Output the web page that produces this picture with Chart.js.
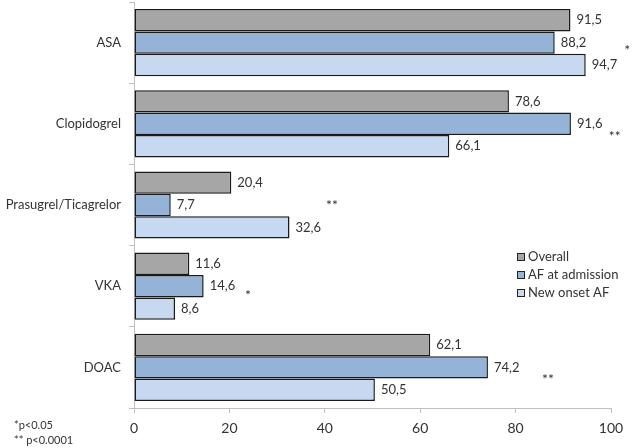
<!DOCTYPE html>
<html>
<head>
<meta charset="utf-8">
<script src="https://cdn.jsdelivr.net/npm/chart.js@4.4.1/dist/chart.umd.min.js"></script>
<style>
  html, body { margin: 0; padding: 0; background: #fff; }
  #wrap { position: relative; width: 632px; height: 448px; }
  canvas { display: block; }
  .nota { position: absolute; left: 14px; font-family: Lato, "Open Sans", sans-serif; font-size: 11px; color: #333; }
</style>
</head>
<body>
<div id="wrap">
  <canvas id="grafico" width="632" height="448"></canvas>
  <div class="nota" style="top:418px">*p&lt;0.05</div>
  <div class="nota" style="top:433px">** p&lt;0.0001</div>
</div>
<script>
const categorias = ["ASA", "Clopidogrel", "Prasugrel/Ticagrelor", "VKA", "DOAC"];
const overall = [91.5, 78.6, 20.4, 11.6, 62.1];
const afIngreso = [88.2, 91.6, 7.7, 14.6, 74.2];
const nuevoAF = [94.7, 66.1, 32.6, 8.6, 50.5];
const seriesNombres = ["Overall", "AF at admission", "New onset AF"];
const colores = ["#A6A6A6", "#95B3D7", "#C6D9F1"];

// asteriscos de significancia (x en unidades del eje, desplazamiento en fracción de categoría)
const marcas = ["*", "**", "**", "*", "**"];
const marcasX = [103.4, 100.8, 41.5, 23.9, 86.8];
const marcasDy = [0.1, 0.16, 0.0, 0.12, 0.15];

const fuente = 'Lato, "Open Sans", sans-serif';

const etiquetasPlugin = {
  id: "etiquetas",
  afterDatasetsDraw(chart) {
    const ctx = chart.ctx;
    ctx.save();
    ctx.font = "13px " + fuente;
    ctx.fillStyle = "#333";
    ctx.textBaseline = "middle";
    ctx.textAlign = "left";
    chart.data.datasets.forEach((ds, i) => {
      chart.getDatasetMeta(i).data.forEach((bar, j) => {
        ctx.fillText(ds.data[j].toFixed(1).replace(".", ","), bar.x + 6, bar.y);
      });
    });
    // asteriscos
    const xs = chart.scales.x, ys = chart.scales.y;
    const paso = ys.getPixelForValue(1) - ys.getPixelForValue(0);
    ctx.font = "14px " + fuente;
    ctx.textAlign = "center";
    marcas.forEach((m, j) => {
      ctx.fillText(m, xs.getPixelForValue(marcasX[j]), ys.getPixelForValue(j) + marcasDy[j] * paso);
    });
    // leyenda
    ctx.font = "13px " + fuente;
    ctx.textAlign = "left";
    chart.data.datasets.forEach((ds, i) => {
      const y = 257 + i * 18;
      ctx.fillStyle = ds.backgroundColor;
      ctx.fillRect(517, y - 4, 8, 8);
      ctx.strokeStyle = "#222";
      ctx.lineWidth = 1;
      ctx.strokeRect(517.5, y - 3.5, 7, 7);
      ctx.fillStyle = "#333";
      ctx.fillText(ds.label, 528, y);
    });
    ctx.restore();
  }
};

new Chart(document.getElementById("grafico").getContext("2d"), {
  type: "bar",
  data: {
    labels: categorias,
    datasets: [overall, afIngreso, nuevoAF].map((d, i) => ({
      label: seriesNombres[i],
      data: d,
      backgroundColor: colores[i],
      borderColor: "#1a1a1a",
      borderWidth: 1.5,
      borderSkipped: false,
      categoryPercentage: 0.827,
      barPercentage: 1
    }))
  },
  options: {
    indexAxis: "y",
    responsive: false,
    animation: false,
    layout: { padding: { top: 2, right: 21, left: 0, bottom: 0 } },
    plugins: { legend: { display: false }, tooltip: { enabled: false } },
    scales: {
      x: {
        min: 0,
        max: 100,
        ticks: { stepSize: 20, color: "#333", font: { family: fuente, size: 14 }, padding: 7 },
        grid: { drawOnChartArea: false, color: "#BFBFBF", tickLength: 5 },
        border: { color: "#BFBFBF" },
        afterFit: s => { s.height = 40; s.paddingLeft = 0; s.paddingRight = 0; }
      },
      y: {
        ticks: { color: "#333", font: { family: fuente, size: 13 }, padding: 8 },
        grid: { offset: true, drawOnChartArea: false, color: "#BFBFBF", tickLength: 5 },
        border: { color: "#BFBFBF" },
        afterFit: s => { s.width = 134; s.paddingTop = 0; s.paddingBottom = 0; }
      }
    }
  },
  plugins: [etiquetasPlugin]
});
</script>
</body>
</html>
